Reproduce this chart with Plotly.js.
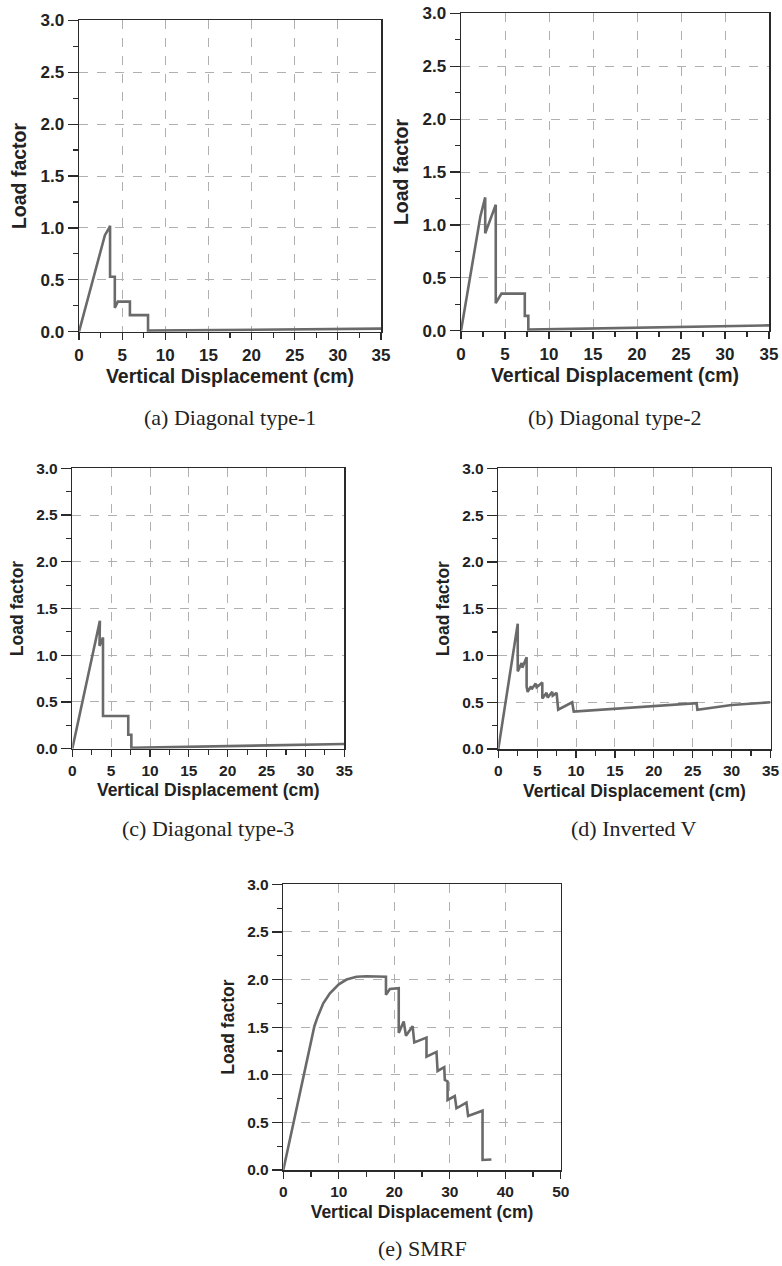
<!DOCTYPE html>
<html>
<head>
<meta charset="utf-8">
<script src="https://cdn.plot.ly/plotly-3.0.1.min.js"></script>
<style>html,body{margin:0;padding:0;background:#fff}</style>
</head>
<body>
<div id="chart" style="width:782px;height:1266px"></div>
<script>
// Pushover curves: load factor against vertical displacement (cm)

// (a) Diagonal type-1
const diag1X = [0, 3.0, 3.5, 3.6, 3.6, 4.15, 4.15, 4.5, 5.9, 5.9, 8.0, 8.0, 35];
const diag1Y = [0, 0.93, 1.0, 1.02, 0.53, 0.53, 0.23, 0.29, 0.29, 0.16, 0.16, 0.01, 0.03];

// (b) Diagonal type-2
const diag2X = [0, 2.2, 2.75, 2.75, 3.95, 3.95, 4.6, 7.25, 7.25, 7.65, 7.65, 35];
const diag2Y = [0, 1.08, 1.26, 0.92, 1.19, 0.26, 0.35, 0.35, 0.14, 0.14, 0.01, 0.05];

// (c) Diagonal type-3
const diag3X = [0, 2.7, 3.55, 3.5, 3.95, 3.95, 7.2, 7.2, 7.6, 7.6, 35];
const diag3Y = [0, 1.07, 1.37, 1.1, 1.19, 0.35, 0.35, 0.15, 0.15, 0.01, 0.05];

// (d) Inverted V
const invVX = [0, 2.5, 2.5, 3.0, 3.09, 3.64, 3.64, 3.77, 4.2, 4.29, 4.8, 4.93, 5.66, 5.66,
               6.2, 6.34, 6.94, 7.0, 7.5, 7.7, 9.5, 9.7, 25.5, 25.6, 30, 33, 35];
const invVY = [0, 1.34, 0.83, 0.92, 0.87, 0.98, 0.67, 0.61, 0.67, 0.64, 0.70, 0.66, 0.71, 0.54,
               0.60, 0.55, 0.61, 0.57, 0.60, 0.42, 0.50, 0.40, 0.49, 0.42, 0.47, 0.49, 0.50];

// (e) SMRF
const smrfX = [0, 5.1, 5.6, 6.2, 7.2, 8.4, 10.0, 11.4, 13.2, 15.0, 18.5, 18.5, 19.2, 20.8, 20.8,
               21.7, 22.1, 23.3, 23.6, 25.8, 25.8, 27.6, 27.8, 29.0, 29.1, 29.6, 29.6,
               30.9, 31.2, 33.0, 33.3, 35.9, 35.9, 37.5];
const smrfY = [0, 1.40, 1.51, 1.61, 1.75, 1.855, 1.95, 2.0, 2.03, 2.035, 2.03, 1.84, 1.90, 1.91, 1.44,
               1.56, 1.41, 1.51, 1.34, 1.39, 1.19, 1.24, 1.04, 1.08, 0.945, 0.93, 0.735,
               0.777, 0.648, 0.707, 0.567, 0.623, 0.105, 0.11];

const captions = ['(a) Diagonal type-1', '(b) Diagonal type-2', '(c) Diagonal type-3', '(d) Inverted V', '(e) SMRF'];
const xTitle = 'Vertical Displacement (cm)';
const yTitle = 'Load factor';

const W = 782, H = 1266;

// frame of each panel in page pixels
const panels = [
  {x: diag1X, y: diag1Y, box: [79, 381, 20.3, 331.7], xmax: 35, xstep: 5, tick: 17, title: 19.5, cap: 417},
  {x: diag2X, y: diag2Y, box: [461, 769, 13.3, 330.7], xmax: 35, xstep: 5, tick: 17, title: 19.5, cap: 417},
  {x: diag3X, y: diag3Y, box: [72.3, 344.3, 468.3, 748.7], xmax: 35, xstep: 5, tick: 15.5, title: 17.5, cap: 828},
  {x: invVX, y: invVY, box: [498.3, 770.5, 468.4, 749], xmax: 35, xstep: 5, tick: 15.5, title: 17.5, cap: 828},
  {x: smrfX, y: smrfY, box: [283.3, 560.8, 884.3, 1170], xmax: 50, xstep: 10, tick: 15.5, title: 17.5, cap: 1248}
];

const lineCol = '#6a6a6a';
const axisCol = '#2a2a2a';
const gridCol = '#b0b0b0';
const sans = 'Liberation Sans, Arial, sans-serif';
const serif = 'Liberation Serif, Times New Roman, serif';

const traces = [];
const layout = {
  width: W, height: H,
  margin: {l: 0, r: 0, t: 0, b: 0},
  paper_bgcolor: '#fff', plot_bgcolor: '#fff',
  showlegend: false,
  annotations: []
};

panels.forEach((p, i) => {
  const n = i === 0 ? '' : String(i + 1);
  const [l, r, t, b] = p.box;
  traces.push({
    x: p.x, y: p.y, type: 'scatter', mode: 'lines',
    xaxis: 'x' + n, yaxis: 'y' + n,
    line: {color: lineCol, width: 2.6},
    hoverinfo: 'skip'
  });
  layout['xaxis' + n] = {
    domain: [l / W, r / W],
    anchor: 'y' + n,
    range: [0, p.xmax], dtick: p.xstep, tick0: 0,
    showline: true, linecolor: axisCol, linewidth: 1.5, mirror: true,
    ticks: 'outside', ticklen: 7, tickwidth: 1.2, tickcolor: axisCol,
    minor: {dtick: p.xstep / 2, ticks: 'outside', ticklen: 5, tickcolor: axisCol, tickwidth: 1.2, showgrid: false},
    showgrid: true, gridcolor: gridCol, griddash: 'dash', gridwidth: 1,
    zeroline: false,
    tickfont: {family: sans, size: p.tick, color: '#222', weight: 700},
    title: {text: xTitle, standoff: 6, font: {family: sans, size: p.title, color: '#222', weight: 700}},
    fixedrange: true
  };
  layout['yaxis' + n] = {
    domain: [1 - b / H, 1 - t / H],
    anchor: 'x' + n,
    range: [0, 3], dtick: 0.5, tick0: 0, tickformat: '.1f',
    showline: true, linecolor: axisCol, linewidth: 1.5, mirror: true,
    ticks: 'outside', ticklen: 10, tickwidth: 1.2, tickcolor: axisCol,
    minor: {dtick: 0.25, ticks: 'outside', ticklen: 5, tickcolor: axisCol, tickwidth: 1.2, showgrid: false},
    showgrid: true, gridcolor: gridCol, griddash: 'dash', gridwidth: 1,
    zeroline: false,
    tickfont: {family: sans, size: p.tick, color: '#222', weight: 700},
    title: {text: yTitle, standoff: 8, font: {family: sans, size: p.title, color: '#222', weight: 700}},
    fixedrange: true
  };
  layout.annotations.push({
    xref: 'paper', yref: 'paper',
    x: (l + r) / 2 / W, y: 1 - p.cap / H,
    xanchor: 'center', yanchor: 'middle',
    text: captions[i], showarrow: false,
    font: {family: serif, size: 22, color: '#222'}
  });
});

Plotly.newPlot('chart', traces, layout, {displayModeBar: false, staticPlot: true});
</script>
</body>
</html>
